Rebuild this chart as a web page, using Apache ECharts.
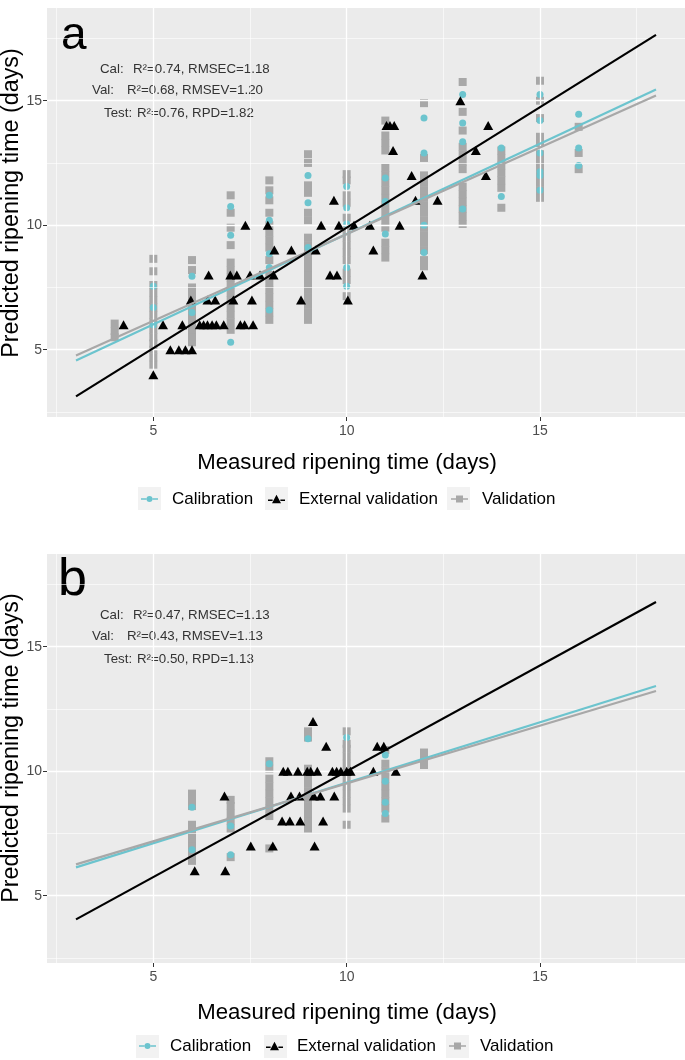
<!DOCTYPE html>
<html><head><meta charset="utf-8">
<script src="https://cdn.jsdelivr.net/npm/echarts@6/dist/echarts.min.js"></script>
<style>html,body{margin:0;padding:0;background:#fff}#c{width:685px;height:1060px}</style>
</head><body><div id="c"></div>
<script>
const FONT = "'Liberation Sans', Arial, sans-serif";

// ---- axes / ticks ----
const xTickValues = [5, 10, 15];
const yTickValues = [5, 10, 15];
const majorGrid = [5, 10, 15];
const minorGrid = [2.5, 7.5, 12.5, 17.5];
const xRange = [2.25, 18.75];
const yRange = [2.3, 18.72];
const fitX = [3, 18];

// ---- panel a ----
const daysA = [4, 5, 6, 7, 8, 9, 10, 11, 12, 13, 14, 15, 16];
const valA = [
  [5.5, 5.75, 6.05],
  [4.4, 4.7, 5.0, 5.25, 5.5, 5.8, 6.1, 6.4, 6.7, 7.0, 7.3, 7.6, 8.15, 8.65],
  [5.3, 5.55, 5.8, 6.05, 6.3, 6.6, 6.9, 7.2, 7.5, 8.2, 8.6],
  [5.8, 6.1, 6.4, 6.7, 7.0, 7.3, 7.6, 7.9, 8.2, 8.5, 9.2, 9.9, 10.5, 11.2],
  [6.2, 6.5, 6.8, 7.1, 7.4, 7.7, 8.0, 8.6, 9.1, 9.4, 9.7, 10.0, 10.5, 11.0, 11.4, 11.8],
  [6.2, 6.5, 6.8, 7.1, 7.4, 7.7, 8.0, 8.3, 8.6, 8.9, 9.2, 9.5, 10.2, 10.5, 11.3, 11.6, 12.5, 12.85],
  [7.15, 7.8, 8.1, 8.6, 8.9, 9.2, 9.5, 9.8, 10.3, 10.9, 11.2, 11.8, 12.05],
  [8.7, 9.0, 9.3, 9.9, 10.2, 10.5, 10.8, 11.1, 11.4, 11.7, 12.0, 12.3, 13.0, 13.3, 13.6, 14.2],
  [8.35, 8.6, 9.0, 9.3, 9.6, 9.9, 10.2, 10.5, 10.8, 11.1, 11.4, 11.7, 12.0, 12.7, 14.9],
  [10.05, 10.35, 10.65, 10.95, 11.25, 11.55, 12.25, 12.55, 12.85, 13.15, 13.8, 14.55, 15.75],
  [10.7, 11.5, 11.8, 12.1, 12.4, 12.7, 13.0],
  [11.1, 11.4, 11.7, 12.0, 12.3, 12.6, 12.85, 13.3, 13.55, 14.3, 15.0, 15.8],
  [12.25, 12.9, 13.95]
];
const calA = [
  [],
  [6.0, 6.7, 7.55],
  [6.5, 7.95],
  [5.3, 9.6, 10.75],
  [6.6, 8.3, 8.85, 10.2, 11.2],
  [9.1, 10.9, 12.0],
  [7.55, 8.3, 10.05, 10.7, 11.55],
  [9.65, 10.95, 11.9],
  [8.9, 10.0, 12.9, 14.3],
  [10.65, 13.35, 14.1, 15.25],
  [11.15, 13.1],
  [11.4, 12.0, 12.15, 12.9, 14.2, 15.25],
  [12.4, 13.1, 14.45]
];
const extA = [
  [4.23, 6], [5.0, 4], [5.25, 6], [5.44, 5], [5.66, 5], [5.83, 5], [6.0, 5], [5.75, 6], [5.97, 7],
  [6.2, 6], [6.3, 6], [6.4, 6], [6.52, 6], [6.63, 6], [6.82, 6], [7.25, 6], [7.36, 6], [7.58, 6],
  [6.4, 7], [6.6, 7], [7.07, 7], [7.55, 7], [8.82, 7], [10.03, 7],
  [6.43, 8], [6.99, 8], [7.16, 8], [7.5, 8], [7.76, 8], [8.11, 8], [9.57, 8], [9.75, 8], [11.96, 8],
  [8.13, 9], [8.57, 9], [9.2, 9], [10.69, 9],
  [7.38, 10], [7.96, 10], [9.34, 10], [9.8, 10], [10.19, 10], [10.6, 10], [11.37, 10],
  [9.67, 11], [11.78, 11], [12.35, 11],
  [11.68, 12], [13.6, 12], [11.2, 13], [13.34, 13],
  [11.03, 14], [11.12, 14], [11.23, 14], [13.66, 14], [12.94, 15]
];
const calFitA = [4.57, 15.45];
const valFitA = [4.77, 15.21];
const extFitA = [3.13, 17.64];
const statLabels = ['Cal:', 'Val:', 'Test:'];
const statsA = ['R\u00b2=0.74, RMSEC=1.18', 'R\u00b2=0.68, RMSEV=1.20', 'R\u00b2=0.76, RPD=1.82'];

// ---- panel b ----
const daysB = [6, 7, 8, 9, 10, 11, 12];
const valB = [
  [6.4, 6.7, 7.0, 7.3, 7.6, 7.85, 8.6, 8.85, 9.1],
  [6.55, 7.7, 8.0, 8.3, 8.6, 8.85],
  [6.9, 8.2, 8.5, 8.8, 9.1, 9.4, 9.7, 10.1, 10.4],
  [7.7, 8.0, 8.3, 8.6, 8.9, 9.2, 9.5, 9.8, 10.1, 11.35, 11.6],
  [7.85, 8.5, 8.8, 9.1, 9.4, 9.7, 10.0, 10.3, 10.6, 10.9, 11.1, 11.6],
  [8.1, 8.5, 8.8, 9.1, 9.4, 9.7, 10.0, 10.3, 10.85],
  [10.25, 10.5, 10.75]
];
const calB = [
  [6.85, 8.55],
  [6.65, 7.8],
  [10.3],
  [11.3],
  [11.35],
  [8.3, 8.75, 9.6, 10.65],
  []
];
const extB = [
  [6.07, 6], [6.84, 9], [6.86, 6], [7.52, 7], [8.09, 7], [9.17, 7],
  [8.33, 8], [8.53, 8], [8.8, 8], [9.39, 8],
  [8.56, 9], [8.78, 9], [9.15, 9], [9.32, 9], [9.68, 9],
  [8.36, 10], [8.48, 10], [8.74, 10], [8.98, 10], [9.07, 10], [9.24, 10], [9.63, 10], [9.74, 10],
  [9.85, 10], [10.0, 10], [10.1, 10], [10.69, 10], [11.27, 10],
  [9.13, 12], [9.47, 11], [10.79, 11], [10.96, 11]
];
const calFitB = [6.14, 13.42];
const valFitB = [6.26, 13.22];
const extFitB = [4.05, 16.79];
const statsB = ['R\u00b2=0.47, RMSEC=1.13', 'R\u00b2=0.43, RMSEV=1.13', 'R\u00b2=0.50, RPD=1.13'];

// ---- styling ----
const CYAN = '#6CC4CE', GRAY = '#A8A8A8', BLACK = '#000000';
const ICON_CIRCLE = 'path://M0,2.2H5.4V3.8H0Z M11.6,2.2H17V3.8H11.6Z M5.5,3A3,3 0 1,1 11.5,3A3,3 0 1,1 5.5,3Z';
const ICON_TRI = 'path://M0,4.7H4.6V6.3H0Z M12.4,4.7H17V6.3H12.4Z M8.5,0L13,8.5H4Z';
const ICON_SQ = 'path://M0,2.7H5V4.3H0Z M12,2.7H17V4.3H12Z M5,0H12V7H5Z';

function flatten(days, groups) {
  const out = [];
  days.forEach((d, i) => groups[i].forEach(v => out.push([d, v])));
  return out;
}
function fitData(ys) { return fitX.map((x, i) => [x, ys[i]]); }

const grids = [
  { left: 47, right: 0, top: 8, height: 409 },
  { left: 47, right: 0, top: 554, height: 409 }
];

function axesFor(i) {
  return {
    x: {
      type: 'value', gridIndex: i, min: xRange[0], max: xRange[1],
      axisLine: { show: false },
      axisTick: { show: true, length: 4, customValues: xTickValues, lineStyle: { color: '#333', width: 1 } },
      axisLabel: { customValues: xTickValues, color: '#4D4D4D', fontSize: 14, fontFamily: FONT, margin: 7 },
      splitLine: { show: false }
    },
    y: {
      type: 'value', gridIndex: i, min: yRange[0], max: yRange[1],
      axisLine: { show: false },
      axisTick: { show: true, length: 4, customValues: yTickValues, lineStyle: { color: '#333', width: 1 } },
      axisLabel: { customValues: yTickValues, color: '#4D4D4D', fontSize: 14, fontFamily: FONT, margin: 5 },
      splitLine: { show: false }
    }
  };
}

function gridLines() {
  const d = [];
  minorGrid.forEach(v => { d.push({ xAxis: v, lineStyle: { color: '#fff', width: 0.6, type: 'solid' } }); d.push({ yAxis: v, lineStyle: { color: '#fff', width: 0.6, type: 'solid' } }); });
  majorGrid.forEach(v => { d.push({ xAxis: v, lineStyle: { color: '#fff', width: 1.3, type: 'solid' } }); d.push({ yAxis: v, lineStyle: { color: '#fff', width: 1.3, type: 'solid' } }); });
  return d;
}

function panelSeries(i, days, val, cal, ext, calFit, valFit, extFit) {
  return [
    { type: 'scatter', xAxisIndex: i, yAxisIndex: i, data: [], z: 1, silent: true,
      markLine: { silent: true, symbol: 'none', label: { show: false }, animation: false, data: gridLines() } },
    { name: 'Validation', type: 'scatter', xAxisIndex: i, yAxisIndex: i, symbol: 'rect', symbolSize: 8,
      itemStyle: { color: GRAY, opacity: 1 }, z: 3, data: flatten(days, val) },
    { name: 'Calibration', type: 'scatter', xAxisIndex: i, yAxisIndex: i, symbol: 'circle', symbolSize: 7,
      itemStyle: { color: CYAN, opacity: 1 }, z: 4, data: flatten(days, cal) },
    { name: 'External validation', type: 'scatter', xAxisIndex: i, yAxisIndex: i, symbol: 'triangle', symbolSize: [10, 9],
      itemStyle: { color: BLACK, opacity: 1 }, z: 5, data: ext },
    { name: 'Calibration', type: 'line', xAxisIndex: i, yAxisIndex: i, showSymbol: false, z: 6,
      lineStyle: { color: CYAN, width: 2.2 }, itemStyle: { color: CYAN }, data: fitData(calFit) },
    { name: 'Validation', type: 'line', xAxisIndex: i, yAxisIndex: i, showSymbol: false, z: 6,
      lineStyle: { color: GRAY, width: 2.2 }, itemStyle: { color: GRAY }, data: fitData(valFit) },
    { name: 'External validation', type: 'line', xAxisIndex: i, yAxisIndex: i, showSymbol: false, z: 7,
      lineStyle: { color: BLACK, width: 2.2 }, itemStyle: { color: BLACK }, data: fitData(extFit) }
  ];
}

const a0 = axesFor(0), a1 = axesFor(1);

function legendsAt(top, dx) {
  const common = { top: top, padding: 0, itemHeight: 8, itemWidth: 17, selectedMode: false,
    textStyle: { fontFamily: FONT, fontSize: 17, color: '#000', padding: [0, 0, 0, 9], lineHeight: 22 } };
  return [
    Object.assign({}, common, { left: 141 + dx, data: [{ name: 'Calibration', icon: ICON_CIRCLE }], itemHeight: 6 }),
    Object.assign({}, common, { left: 268 + dx, data: [{ name: 'External validation', icon: ICON_TRI }], itemHeight: 8.5 }),
    Object.assign({}, common, { left: 451 + dx, data: [{ name: 'Validation', icon: ICON_SQ }], itemHeight: 7 })
  ];
}

function txt(text, x, y, size, color, align, extra) {
  return Object.assign({ type: 'text', x: x, y: y, silent: true,
    style: { text: text, font: size + 'px ' + FONT, fill: color, textAlign: align || 'left', textVerticalAlign: 'middle' } }, extra || {});
}
function keyRect(x, y) {
  return { type: 'rect', shape: { x: x, y: y, width: 23, height: 23 }, style: { fill: '#F2F2F2' }, silent: true, z: -1 };
}
function statBlock(stats, y0) {
  const ys = [y0, y0 + 21, y0 + 44];
  const lx = [100, 92, 104];
  const rx = [133, 127, 137];
  const out = [];
  stats.forEach((s, i) => {
    out.push(txt(statLabels[i], lx[i], ys[i], 13.3, '#333'));
    out.push(txt(s, rx[i], ys[i], 13.3, '#333'));
  });
  return out;
}

const graphics = [
  keyRect(138, 487), keyRect(265, 487), keyRect(447, 487),
  keyRect(136, 1035), keyRect(264, 1035), keyRect(446, 1035),
  txt('a', 61, 36, 46, '#000'),
  txt('b', 58, 581, 52, '#000')
].concat(statBlock(statsA, 69), statBlock(statsB, 615), [
  txt('Measured ripening time (days)', 347, 463, 22.2, '#000', 'center'),
  txt('Measured ripening time (days)', 347, 1013, 22.2, '#000', 'center'),
  txt('Predicted ripening time (days)', 12, 203, 23.3, '#000', 'center', { rotation: Math.PI / 2 }),
  txt('Predicted ripening time (days)', 12, 748, 23.3, '#000', 'center', { rotation: Math.PI / 2 })
]);

const chart = echarts.init(document.getElementById('c'), null, { renderer: 'canvas' });
chart.setOption({
  animation: false,
  backgroundColor: '#fff',
  grid: grids.map(g => Object.assign({ show: true, backgroundColor: '#EBEBEB', borderWidth: 0 }, g)),
  xAxis: [a0.x, a1.x],
  yAxis: [a0.y, a1.y],
  legend: legendsAt(488, 0).concat(legendsAt(1035, -2)),
  graphic: graphics,
  series: panelSeries(0, daysA, valA, calA, extA, calFitA, valFitA, extFitA)
    .concat(panelSeries(1, daysB, valB, calB, extB, calFitB, valFitB, extFitB))
});
</script></body></html>
